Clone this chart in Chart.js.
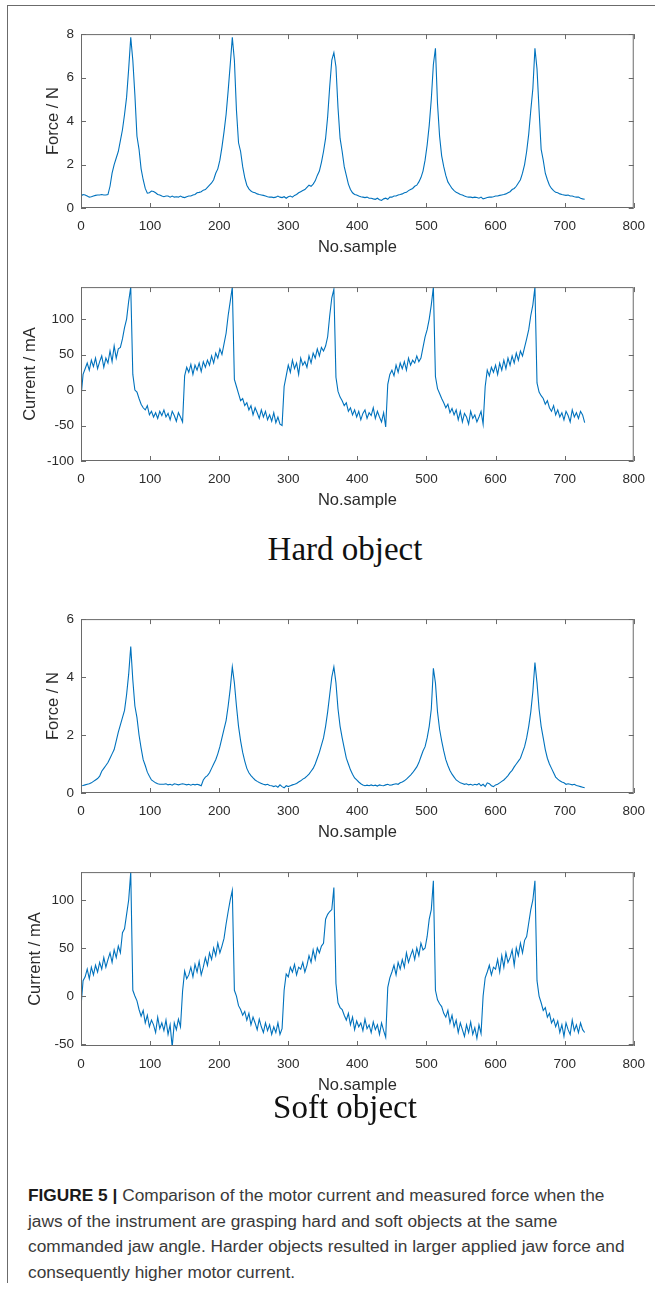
<!DOCTYPE html>
<html>
<head>
<meta charset="utf-8">
<script src="https://cdn.jsdelivr.net/npm/chart.js@4.4.0/dist/chart.umd.min.js"></script>
<style>
  body { margin: 0; background: #fff; width: 655px; height: 1292px; position: relative; overflow: hidden; }
  .frameTop { position: absolute; left: 7px; top: 5px; width: 648px; height: 0; border-top: 1.5px solid #6b6b6b; }
  .frameLeft { position: absolute; left: 7px; top: 5px; width: 0; height: 1278px; border-left: 1.5px solid #6b6b6b; }
  .plot { position: absolute; left: 0; width: 655px; }
  .objTitle { position: absolute; left: 245px; width: 200px; text-align: center; font-family: "Liberation Serif", "DejaVu Serif", serif; font-size: 33px; color: #111; line-height: 40px; }
  .caption { position: absolute; left: 28px; top: 1183px; font-family: "Liberation Sans", Arial, sans-serif; font-size: 17.3px; line-height: 25.5px; color: #3a3a3a; white-space: nowrap; }
  .caption b { color: #1a1a1a; }
</style>
</head>
<body>
<div class="frameTop"></div>
<div class="frameLeft"></div>

<div class="plot" style="top:19px;height:238px"><canvas id="hardForceChart"></canvas></div>
<div class="plot" style="top:272px;height:238px"><canvas id="hardCurrentChart"></canvas></div>
<div class="objTitle" style="top:529px">Hard object</div>
<div class="plot" style="top:604px;height:238px"><canvas id="softForceChart"></canvas></div>
<div class="plot" style="top:857px;height:238px"><canvas id="softCurrentChart"></canvas></div>
<div class="objTitle" style="top:1087px">Soft object</div>

<div class="caption"><b>FIGURE 5 |</b> Comparison of the motor current and measured force when the<br>jaws of the instrument are grasping hard and soft objects at the same<br>commanded jaw angle. Harder objects resulted in larger applied jaw force and<br>consequently higher motor current.</div>

<script>
// values read every 3 samples (0, 3, 6 ... 729)
const sampleStep = 3

const hardForce = [
    0.55, 0.62, 0.6, 0.55, 0.5, 0.52, 0.55, 0.58, 0.6, 0.6,
    0.62, 0.6, 0.6, 0.62, 1.0, 1.6, 2.0, 2.3, 2.6, 3.1,
    3.6, 4.3, 5.1, 6.4, 7.85, 6.8, 5.2, 3.3, 2.7, 1.8,
    1.3, 0.9, 0.68, 0.7, 0.78, 0.76, 0.7, 0.62, 0.6, 0.55,
    0.52, 0.55, 0.55, 0.5, 0.55, 0.5, 0.52, 0.5, 0.55, 0.5,
    0.48, 0.52, 0.55, 0.55, 0.6, 0.62, 0.7, 0.72, 0.75, 0.82,
    0.85, 0.95, 1.05, 1.15, 1.3, 1.6, 1.8, 2.2, 2.8, 3.5,
    4.3, 5.4, 6.6, 7.85, 6.8, 4.5, 3.0, 2.6, 1.9, 1.4,
    1.05, 0.88, 0.78, 0.72, 0.7, 0.65, 0.62, 0.6, 0.58, 0.55,
    0.52, 0.5, 0.5, 0.48, 0.5, 0.55, 0.5, 0.48, 0.52, 0.45,
    0.52, 0.55, 0.5, 0.58, 0.62, 0.7, 0.75, 0.8, 0.85, 0.95,
    1.05, 1.0, 1.1, 1.25, 1.5, 1.7, 2.1, 2.6, 3.2, 4.2,
    5.6, 6.8, 7.15, 6.5, 4.6, 3.2, 2.6, 1.9, 1.5, 1.1,
    0.85, 0.7, 0.62, 0.6, 0.55, 0.52, 0.5, 0.48, 0.5, 0.45,
    0.45, 0.42, 0.4, 0.45, 0.38, 0.35, 0.42, 0.45, 0.4, 0.5,
    0.5, 0.55, 0.55, 0.6, 0.62, 0.65, 0.7, 0.72, 0.8, 0.85,
    0.9, 1.0, 1.05, 1.2, 1.4, 1.7, 2.2, 2.9, 3.8, 5.0,
    6.6, 7.35, 4.8, 3.3, 2.4, 1.9, 1.5, 1.2, 1.05, 0.9,
    0.8, 0.72, 0.68, 0.62, 0.6, 0.55, 0.52, 0.5, 0.5, 0.48,
    0.5, 0.48, 0.45, 0.5, 0.42, 0.45, 0.48, 0.5, 0.5, 0.52,
    0.55, 0.55, 0.58, 0.6, 0.62, 0.65, 0.7, 0.75, 0.85, 0.9,
    1.0, 1.15, 1.3, 1.6, 2.0, 2.6, 3.4, 4.5, 5.5, 7.35,
    6.4, 4.5, 2.7, 2.2, 1.6, 1.3, 1.05, 0.9, 0.8, 0.72,
    0.7, 0.65, 0.62, 0.6, 0.58, 0.6, 0.55, 0.55, 0.52, 0.5,
    0.5, 0.45, 0.42, 0.4
]

const hardCurrent = [
    -10, 22, 30, 38, 28, 42, 33, 45, 30, 40,
    48, 32, 45, 38, 55, 40, 62, 45, 58, 60,
    72, 88, 100, 125, 145, 22, 0, -3, -12, -20,
    -25, -28, -22, -35, -30, -38, -32, -40, -30, -36,
    -28, -38, -33, -42, -30, -36, -44, -32, -38, -45,
    20, 32, 25, 36, 22, 35, 28, 38, 26, 40,
    32, 42, 35, 48, 38, 52, 45, 58, 50, 65,
    80, 105, 125, 145, 15, 5, -5, -15, -12, -22,
    -18, -28, -22, -35, -25, -32, -40, -28, -38, -30,
    -42, -35, -44, -32, -46, -38, -48, -50, 5, 20,
    35, 25, 42, 30, 38, 22, 45, 35, 40, 32,
    48, 38, 52, 45, 58, 48, 60, 55, 62, 75,
    105, 130, 142, 18, -2, -10, -15, -22, -18, -30,
    -25, -35, -28, -38, -30, -42, -33, -28, -40, -32,
    -36, -25, -40, -30, -38, -45, -32, -52, 8, 22,
    28, 20, 35, 25, 38, 30, 40, 28, 45, 35,
    42, 38, 48, 40, 45, 60, 75, 85, 100, 120,
    145, 19, 2, -5, -12, -18, -25, -20, -32, -26,
    -35, -28, -42, -30, -45, -33, -38, -48, -30, -40,
    -35, -45, -38, -30, -48, 5, 28, 20, 32, 25,
    35, 22, 38, 28, 42, 30, 45, 35, 48, 38,
    52, 42, 55, 48, 60, 72, 85, 105, 120, 145,
    10, -3, -8, -12, -20, -15, -25, -30, -22, -35,
    -28, -38, -32, -42, -30, -36, -45, -28, -38, -32,
    -40, -30, -35, -46
]

const softForce = [
    0.25, 0.26, 0.28, 0.3, 0.32, 0.35, 0.4, 0.45, 0.5, 0.58,
    0.75, 0.85, 0.95, 1.05, 1.2, 1.35, 1.5, 1.8, 2.1, 2.35,
    2.6, 2.85, 3.4, 4.1, 5.05, 3.9, 3.0, 2.6, 2.0, 1.55,
    1.15, 0.95, 0.72, 0.58, 0.45, 0.4, 0.35, 0.32, 0.3, 0.3,
    0.3, 0.32, 0.28, 0.3, 0.27, 0.32, 0.3, 0.28, 0.3, 0.32,
    0.3, 0.28, 0.3, 0.27, 0.3, 0.28, 0.3, 0.28, 0.25, 0.45,
    0.55, 0.6, 0.7, 0.85, 1.0, 1.15, 1.35, 1.6, 1.9, 2.2,
    2.5, 3.0, 3.6, 4.35, 3.8, 3.0, 2.3, 1.8, 1.4, 1.1,
    0.85, 0.7, 0.6, 0.52, 0.45, 0.4, 0.36, 0.33, 0.3, 0.28,
    0.3, 0.26, 0.25, 0.22, 0.25, 0.2, 0.28, 0.22, 0.18, 0.25,
    0.22, 0.25, 0.28, 0.3, 0.33, 0.38, 0.42, 0.48, 0.52, 0.58,
    0.65, 0.75, 0.85, 1.0, 1.2, 1.4, 1.65, 1.9, 2.3, 2.8,
    3.4, 4.0, 4.35, 3.8, 2.9, 2.3, 1.9, 1.55, 1.2, 1.0,
    0.8, 0.65, 0.52, 0.45, 0.38, 0.32, 0.28, 0.25, 0.27, 0.25,
    0.28, 0.25, 0.27, 0.24, 0.28, 0.26, 0.25, 0.28, 0.3, 0.27,
    0.28, 0.3, 0.32, 0.3, 0.35, 0.38, 0.42, 0.48, 0.55, 0.62,
    0.7, 0.8, 0.9, 1.05, 1.25, 1.45, 1.6, 1.9, 2.3, 2.9,
    4.3, 3.8, 2.8, 2.2, 1.8, 1.45, 1.15, 0.95, 0.78, 0.65,
    0.55, 0.45, 0.4, 0.35, 0.33, 0.3, 0.32, 0.28, 0.3, 0.27,
    0.3, 0.28, 0.33, 0.25, 0.3, 0.22, 0.35, 0.32, 0.25, 0.22,
    0.28, 0.3, 0.35, 0.4, 0.45, 0.52, 0.6, 0.7, 0.78, 0.9,
    1.0, 1.1, 1.2, 1.4, 1.6, 1.9, 2.3, 2.8, 3.5, 4.5,
    3.8, 2.9, 2.3, 1.9, 1.5, 1.2, 1.0, 0.85, 0.7, 0.55,
    0.48, 0.42, 0.38, 0.35, 0.3, 0.32, 0.3, 0.28, 0.3, 0.26,
    0.24, 0.22, 0.2, 0.18
]

const softCurrent = [
    -11, 16, 20, 28, 18, 30, 22, 32, 25, 35,
    28, 40, 30, 38, 45, 35, 48, 40, 52, 45,
    66, 70, 85, 100, 129, 6, 0, -5, -14, -21,
    -15, -28, -20, -32, -25, -30, -38, -22, -34, -28,
    -36, -25, -40, -30, -53, -28, -35, -24, -32, 5,
    26, 18, 22, 30, 20, 33, 25, 36, 22, 30,
    40, 32, 45, 38, 50, 42, 55, 45, 52, 60,
    75, 88, 100, 110, 6, 0, -10, -14, -20, -16,
    -25, -18, -30, -22, -28, -35, -24, -32, -38, -28,
    -36, -30, -40, -32, -38, -28, -40, -34, 6, 23,
    20, 30, 25, 33, 22, 30, 28, 35, 25, 32,
    42, 35, 48, 38, 50, 45, 52, 55, 80, 85,
    88, 90, 113, 13, -7, -12, -14, -20, -25, -18,
    -30, -22, -35, -26, -32, -28, -36, -24, -34, -30,
    -38, -27, -35, -30, -40, -28, -36, -43, 9, 19,
    25, 32, 22, 35, 28, 38, 30, 45, 35, 42,
    48, 38, 50, 42, 55, 48, 50, 62, 80, 90,
    120, 6, -4, -8, -11, -18, -22, -15, -28, -20,
    -32, -25, -38, -28, -35, -42, -30, -38, -27, -40,
    -33, -44, -30, -39, 0, 19, 25, 32, 22, 30,
    28, 38, 25, 42, 30, 45, 35, 40, 48, 32,
    50, 42, 55, 45, 58, 62, 76, 90, 100, 120,
    16, 0, -7, -15, -12, -22, -18, -28, -24, -32,
    -26, -38, -30, -42, -28, -35, -40, -25, -36, -30,
    -38, -28, -35, -38
]

const xTicks = [0, 100, 200, 300, 400, 500, 600, 700, 800]
const hardForceTicks = [0, 2, 4, 6, 8]
const hardCurrentTicks = [-100, -50, 0, 50, 100]
const softForceTicks = [0, 2, 4, 6]
const softCurrentTicks = [-50, 0, 50, 100]

const axisColor = '#6a6a6a'
const textColor = '#2b2b2b'
const lineColor = '#0072bd'

// matlab style box with ticks pointing inside on all four sides
const matlabBox = {
    id: 'matlabBox',
    afterDraw(chart) {
        let ctx = chart.ctx
        let a = chart.chartArea
        let x = chart.scales.x
        let y = chart.scales.y
        ctx.save()
        ctx.strokeStyle = axisColor
        ctx.lineWidth = 1
        ctx.strokeRect(a.left + 0.5, a.top + 0.5, a.right - a.left - 1, a.bottom - a.top - 1)
        ctx.beginPath()
        x.ticks.forEach(t => {
            let px = Math.round(x.getPixelForValue(t.value)) + 0.5
            ctx.moveTo(px, a.bottom); ctx.lineTo(px, a.bottom - 5)
            ctx.moveTo(px, a.top); ctx.lineTo(px, a.top + 5)
        })
        y.ticks.forEach(t => {
            let py = Math.round(y.getPixelForValue(t.value)) + 0.5
            ctx.moveTo(a.left, py); ctx.lineTo(a.left + 5, py)
            ctx.moveTo(a.right, py); ctx.lineTo(a.right - 5, py)
        })
        ctx.stroke()
        ctx.restore()
    }
}

function create_line_chart(_target, _values, _yTitle, _yMin, _yMax, _yTicks, _padLeft) {
    let ctx = document.getElementById(_target)
    let points = _values.map((v, i) => ({x: i * sampleStep, y: v}))
    new Chart(ctx, {
        type: 'line',
        data: {
            datasets: [{
                data: points,
                borderColor: lineColor,
                borderWidth: 1.1,
                pointRadius: 0,
                tension: 0,
                fill: false
            }]
        },
        plugins: [matlabBox],
        options: {
            responsive: true,
            maintainAspectRatio: false,
            animation: false,
            layout: {padding: {left: _padLeft, right: 21, top: 10, bottom: 0}},
            plugins: {legend: {display: false}, tooltip: {enabled: false}},
            scales: {
                x: {
                    type: 'linear',
                    min: 0,
                    max: 800,
                    afterBuildTicks: s => { s.ticks = xTicks.map(v => ({value: v})) },
                    afterFit: s => { s.height = 49 },
                    grid: {display: false, drawTicks: false},
                    border: {display: false},
                    ticks: {color: textColor, font: {family: 'Liberation Sans', size: 13.5}, padding: 10, maxRotation: 0},
                    title: {display: true, text: 'No.sample', color: textColor, font: {family: 'Liberation Sans', size: 16.5}, padding: 0}
                },
                y: {
                    type: 'linear',
                    min: _yMin,
                    max: _yMax,
                    afterBuildTicks: s => { s.ticks = _yTicks.map(v => ({value: v})) },
                    afterFit: s => { s.width = 81 - _padLeft },
                    grid: {display: false, drawTicks: false},
                    border: {display: false},
                    ticks: {color: textColor, font: {family: 'Liberation Sans', size: 13.5}, padding: 7},
                    title: {display: true, text: _yTitle, color: textColor, font: {family: 'Liberation Sans', size: 16.5}, padding: 0}
                }
            }
        }
    })
}

create_line_chart('hardForceChart', hardForce, 'Force / N', 0, 8, hardForceTicks, 44)
create_line_chart('hardCurrentChart', hardCurrent, 'Current / mA', -100, 145, hardCurrentTicks, 21)
create_line_chart('softForceChart', softForce, 'Force / N', 0, 6, softForceTicks, 44)
create_line_chart('softCurrentChart', softCurrent, 'Current / mA', -52, 129, softCurrentTicks, 26)
</script>
</body>
</html>
